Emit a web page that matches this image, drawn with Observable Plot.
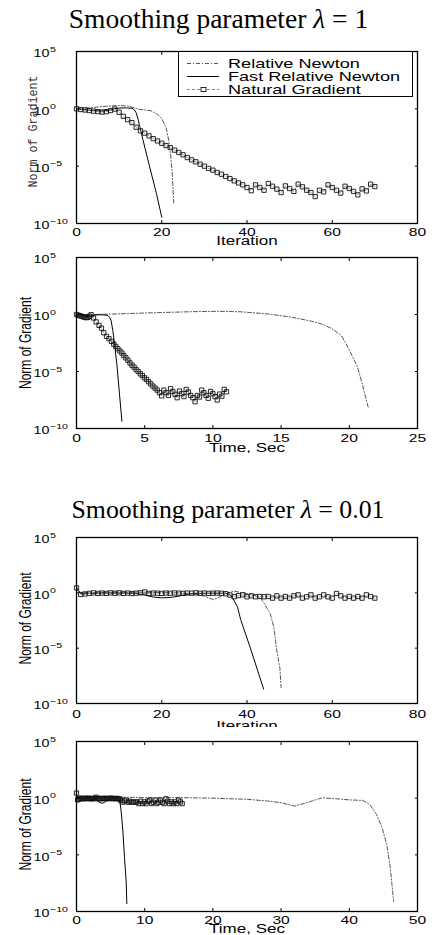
<!DOCTYPE html>
<html><head><meta charset="utf-8">
<script src="https://cdn.jsdelivr.net/npm/d3@7"></script>
<script src="https://cdn.jsdelivr.net/npm/@observablehq/plot@0.6"></script>
<style>
body{margin:0;background:#fff;}
#root{position:relative;width:432px;height:935px;overflow:hidden;background:#fff;}
.title{position:absolute;width:432px;text-align:center;font-family:"Liberation Serif","Times New Roman",serif;line-height:26px;color:#000;white-space:nowrap;}
.panel{position:absolute;left:0;}
.panel svg{display:block;}
#legend{position:absolute;left:178px;top:51px;width:235px;height:46px;box-sizing:border-box;border:1px solid #000;background:#fff;}
</style></head><body><div id="root"></div>
<script>
// ---------- data ----------
const seriesNames = ["Relative Newton", "Fast Relative Newton", "Natural Gradient"];
const titles = ["Smoothing parameter <i>λ</i> = 1", "Smoothing parameter <i>λ</i> = 0.01"];
const yTickExponents = [5, 0, -5, -10];
const iterTicks = [0, 20, 40, 60, 80];
const timeTicksA = [0, 5, 10, 15, 20, 25];
const timeTicksB = [0, 10, 20, 30, 40, 50];
const yLabel = "Norm of Gradient";

// lambda = 1 : log10(norm of gradient)
const ngA_log = [0,-0.06,-0.1,-0.15,-0.2,-0.24,-0.28,-0.25,-0.15,-0.02,
  -0.3,-0.65,-0.95,-1.2,-1.6,-1.92,-2.12,-2.36,-2.6,-2.8,
  -3.0,-3.2,-3.38,-3.6,-3.8,-4.01,-4.25,-4.45,-4.62,-4.83,
  -5.0,-5.2,-5.35,-5.55,-5.7,-5.9,-6.08,-6.28,-6.46,-6.63,
  -6.86,-7.14,-6.63,-6.86,-7.1,-6.51,-6.75,-7.0,-7.3,-6.72,
  -6.95,-7.2,-6.57,-6.8,-7.1,-7.3,-7.65,-7.1,-7.24,-6.63,
  -6.86,-7.1,-7.35,-6.75,-6.95,-7.2,-7.5,-6.98,-7.16,-6.57,-6.78];
const ngA_time = [0,0.12,0.24,0.36,0.48,0.6,0.72,0.84,0.96,1.07,
  1.25,1.44,1.65,1.83,2.0,2.2,2.38,2.56,2.73,2.88,
  3.03,3.18,3.33,3.47,3.62,3.77,3.92,4.07,4.22,4.37,
  4.52,4.68,4.83,4.98,5.13,5.28,5.44,5.6,5.76,5.92,
  6.08,6.24,6.41,6.57,6.74,6.9,7.06,7.22,7.38,7.55,
  7.72,7.88,8.04,8.2,8.37,8.53,8.69,8.86,9.02,9.18,
  9.34,9.5,9.66,9.83,10.0,10.16,10.32,10.49,10.66,10.83,11.0];
const rnA_iter = [0,2,4,6,8,10,12,13,14.4,16,17.5,19,20,21,21.6,22.1,22.5,22.8];
const rnA_log  = [0,0.05,0.12,0.2,0.25,0.28,0.25,0.15,-0.03,-0.1,-0.17,-0.47,-0.84,-1.63,-2.65,-4.1,-5.85,-8.2];
const frnA_iter = [0,2,4,6,8,9,10,11,12,13,13.6,14,14.4,14.8,15.56,17.1,18.7,20];
const frnA_log  = [0,-0.08,-0.15,-0.2,-0.1,0.02,0.06,0.08,0.08,0.05,-0.1,-0.35,-0.85,-1.48,-2.65,-4.97,-7.3,-9.45];
const rnA_time = [0,1.2,3,5,7,9,10.5,12,14,15.7,17.2,18.1,18.75,19.4,19.7,20.2,20.6,20.95,21.4];
const rnA_tlog = [0,0,0.05,0.13,0.2,0.26,0.28,0.24,0.05,-0.22,-0.58,-0.88,-1.26,-1.84,-2.43,-3.6,-4.6,-6.1,-8.2];
const frnA_time = [0,0.4,0.8,1.1,1.5,2.0,2.3,2.45,2.54,2.66,2.79,2.98,3.15,3.33];
const frnA_tlog = [0,-0.1,-0.2,-0.1,-0.03,-0.03,-0.09,-0.3,-0.55,-1.4,-2.57,-4.62,-6.96,-9.36];

// lambda = 0.01
const ngB_log = [0.45,-0.15,-0.1,-0.05,0,-0.05,-0.02,-0.05,0,-0.04,
  0,-0.05,-0.02,-0.06,-0.03,0,0.08,-0.05,-0.02,-0.03,
  -0.05,-0.02,-0.04,-0.01,-0.03,-0.05,-0.02,-0.03,0,-0.04,
  -0.02,-0.05,-0.03,-0.02,-0.04,-0.08,-0.2,-0.35,-0.25,-0.18,
  -0.36,-0.27,-0.36,-0.33,-0.36,-0.33,-0.48,-0.27,-0.48,-0.33,
  -0.48,-0.27,-0.18,-0.48,-0.36,-0.18,-0.48,-0.36,-0.18,-0.36,
  -0.48,-0.06,-0.27,-0.48,-0.33,-0.48,-0.33,-0.48,-0.18,-0.33,-0.48];
const ngB_time = [0,0.17,0.35,0.53,0.71,0.9,1.08,1.26,1.44,1.62,
  1.8,1.98,2.16,2.35,2.53,2.71,2.89,3.07,3.25,3.43,
  3.61,3.8,3.98,4.16,4.34,4.52,4.7,4.88,5.06,5.24,
  5.42,5.6,5.78,5.96,6.14,6.32,6.5,6.76,7.03,7.29,
  7.56,7.82,8.09,8.35,8.62,8.88,9.15,9.41,9.68,9.94,
  10.2,10.47,10.73,11.0,11.26,11.53,11.79,12.06,12.32,12.59,
  12.85,13.12,13.38,13.65,13.91,14.18,14.44,14.71,14.97,15.24,15.5];
const rnB_iter = [0,1,4,8,12,16,20,24,28,30,32,33,34,35.5,37,39,41,43,43.9,44.7,45.5,46.3,47,47.7,48];
const rnB_log  = [0.3,0,0.02,0.05,0.05,0.05,0.02,0,-0.1,-0.3,-0.6,-0.5,-0.3,0,0.15,0,-0.15,-0.4,-0.87,-1.4,-1.93,-3.13,-5.24,-6.75,-8.55];
const frnB_iter = [0,1,3,6,10,14,16,18,20,22,24,26,28,32,35,36.1,36.9,37.8,38.5,40.8,43.9];
const frnB_log  = [0.5,-0.1,-0.05,-0.02,-0.02,-0.05,-0.2,-0.38,-0.45,-0.42,-0.3,-0.12,-0.05,-0.03,-0.03,-0.2,-0.65,-1.3,-2.4,-5.0,-8.7];
const rnB_time = [0,2,5,10,15,20,25,28,30,32,34,36,38,40,42,43,44,44.8,45.5,46,46.5];
const rnB_tlog = [0.2,0.1,0.1,0.05,0.05,0,-0.1,-0.25,-0.4,-0.7,-0.35,0.03,-0.05,-0.15,-0.2,-0.56,-1.44,-2.6,-4.1,-6.1,-9.1];
const frnB_time = [0,0.3,1,2,2.8,3.3,3.8,4.3,4.7,5.5,6.2,6.35,6.55,6.8,7.04,7.28,7.38];
const frnB_tlog = [0.3,-0.05,0,-0.02,-0.1,-0.35,-0.45,-0.3,-0.05,-0.02,-0.05,-0.3,-1.15,-2.9,-5.26,-7.3,-9.3];

// ---------- drawing ----------
const SANS = "'Liberation Sans', Arial, Helvetica, sans-serif";
const MONO = "'Liberation Mono', 'Courier New', monospace";
const SX = 1.36;
const root = document.getElementById("root");

function pairs(xs, ys) { return xs.map((x, i) => ({x, y: ys[i]})); }

function panel(cfg) {
  const rn = pairs(cfg.rnX, cfg.rnY);
  const frn = pairs(cfg.frnX, cfg.frnY);
  const ng = pairs(cfg.ngX, cfg.ngY);
  const chart = Plot.plot({
    width: 432, height: cfg.height,
    marginLeft: 76, marginRight: 15, marginTop: cfg.marginTop, marginBottom: cfg.marginBottom,
    x: {domain: cfg.xDomain},
    y: {domain: [-10, 5]},
    style: {fontFamily: SANS, fontSize: "12px", color: "#000", background: "transparent"},
    marks: [
      Plot.line(rn, {x: "x", y: "y", stroke: "#555", strokeWidth: 1, strokeDasharray: "4,2,1,2"}),
      Plot.line(frn, {x: "x", y: "y", stroke: "#000", strokeWidth: 1}),
      Plot.line(ng, {x: "x", y: "y", stroke: "#888", strokeWidth: 0.8, strokeDasharray: "3,2"}),
      Plot.dot(ng, {x: "x", y: "y", symbol: "square", r: 2.4, stroke: "#111", strokeWidth: 0.9, fill: "none"}),
      Plot.frame({stroke: "#000", strokeWidth: 1.3}),
      Plot.axisX({ticks: cfg.xTicks, tickSize: 0, tickPadding: cfg.tickPad, label: null, fontSize: 11.5}),
      Plot.axisX({anchor: "bottom", ticks: cfg.xTicks, tickSize: -3, tickFormat: () => "", label: null}),
      Plot.axisX({anchor: "top", ticks: cfg.xTicks, tickSize: -3, tickFormat: () => "", label: null}),
      Plot.axisY({ticks: yTickExponents, tickSize: 0, tickPadding: 0, dx: -43, dy: 2.5, textAnchor: "start",
        tickFormat: d => "10^" + d, label: null, fontSize: 10.5}),
      Plot.axisY({anchor: "left", ticks: yTickExponents, tickSize: -3, tickFormat: () => "", label: null}),
      Plot.axisY({anchor: "right", ticks: yTickExponents, tickSize: -3, tickFormat: () => "", label: null}),
      Plot.text([cfg.xLabel], {frameAnchor: "bottom", dy: cfg.xLabelDy, text: d => d, fontSize: 12.5,
        textAnchor: "middle", lineAnchor: "middle"}),
      Plot.text([yLabel], {frameAnchor: "left", rotate: -90, dx: cfg.yLabelDx, dy: cfg.yLabelDy, text: d => d,
        fontFamily: cfg.yMono ? MONO : SANS, fontSize: cfg.yMono ? 11.7 : 12, fill: cfg.yMono ? "#333" : "#000",
        textAnchor: "middle", lineAnchor: "middle"})
    ]
  });
  // superscript exponents on the y tick labels
  chart.querySelectorAll('g[aria-label="y-axis tick label"] text').forEach(t => {
    const s = t.textContent;
    if (!s.includes("^")) return;
    const exp = s.split("^")[1].replace("-", "−");
    t.textContent = "";
    const a = document.createElementNS("http://www.w3.org/2000/svg", "tspan");
    a.textContent = "10";
    const b = document.createElementNS("http://www.w3.org/2000/svg", "tspan");
    b.setAttribute("dy", "-5.7");
    b.setAttribute("dx", "0.5");
    b.setAttribute("font-size", "7.8");
    b.textContent = exp;
    t.appendChild(a); t.appendChild(b);
  });
  // the original figure's sans texts are stretched horizontally
  const textGroups = chart.querySelectorAll('g[aria-label="text"]');
  const xLabelText = textGroups[0] ? textGroups[0].querySelector("text") : null;
  const yLabelText = textGroups[1] ? textGroups[1].querySelector("text") : null;
  const stretch = Array.from(chart.querySelectorAll('g[aria-label="x-axis tick label"] text, g[aria-label="y-axis tick label"] text'));
  if (xLabelText) stretch.push(xLabelText);
  stretch.forEach(t => {
    t.setAttribute("transform", (t.getAttribute("transform") || "") + ` scale(${SX},1)`);
  });
  if (yLabelText) {
    yLabelText.setAttribute("transform", (yLabelText.getAttribute("transform") || "") + ` scale(1,${cfg.yMono ? 1.15 : 1.3})`);
  }
  const div = document.createElement("div");
  div.className = "panel";
  div.style.top = cfg.top + "px";
  div.appendChild(chart);
  root.appendChild(div);
}

function title(html, top, left, size) {
  const d = document.createElement("div");
  d.className = "title";
  d.style.top = top + "px";
  d.style.left = left + "px";
  d.style.fontSize = size + "px";
  d.innerHTML = html;
  root.appendChild(d);
}

title(titles[0], 6, 2.5, 27.5);
panel({top: 40, height: 208, marginTop: 11, marginBottom: 25, xDomain: [0, 80], xTicks: iterTicks,
  xLabel: "Iteration", xLabelDy: 17.5, tickPad: 4.4, yLabelDx: -44, yLabelDy: -6, yMono: true,
  rnX: rnA_iter, rnY: rnA_log, frnX: frnA_iter, frnY: frnA_log, ngX: ngA_log.map((d, i) => i), ngY: ngA_log});
panel({top: 248, height: 205, marginTop: 9, marginBottom: 25, xDomain: [0, 25], xTicks: timeTicksA,
  xLabel: "Time, Sec", xLabelDy: 19, tickPad: 5.4, yLabelDx: -51, yLabelDy: 0,
  rnX: rnA_time, rnY: rnA_tlog, frnX: frnA_time, frnY: frnA_tlog, ngX: ngA_time, ngY: ngA_log});
title(titles[1], 497, 12, 25.8);
panel({top: 527, height: 200, marginTop: 10, marginBottom: 24, xDomain: [0, 80], xTicks: iterTicks,
  xLabel: "Iteration", xLabelDy: 22, tickPad: 5.9, yLabelDx: -51, yLabelDy: -2,
  rnX: rnB_iter, rnY: rnB_log, frnX: frnB_iter, frnY: frnB_log, ngX: ngB_log.map((d, i) => i), ngY: ngB_log});
panel({top: 728, height: 207, marginTop: 13, marginBottom: 24, xDomain: [0, 50], xTicks: timeTicksB,
  xLabel: "Time, Sec", xLabelDy: 17, tickPad: 4.4, yLabelDx: -51, yLabelDy: -2,
  rnX: rnB_time, rnY: rnB_tlog, frnX: frnB_time, frnY: frnB_tlog, ngX: ngB_time, ngY: ngB_log});

// legend (panel 1)
const NS = "http://www.w3.org/2000/svg";
const leg = document.createElement("div");
leg.id = "legend";
const ls = document.createElementNS(NS, "svg");
ls.setAttribute("width", "233"); ls.setAttribute("height", "44");
const styles = [
  {stroke: "#555", dash: "4,2,1,2", marker: false},
  {stroke: "#000", dash: null, marker: false},
  {stroke: "#888", dash: "3,2", marker: true}
];
seriesNames.forEach((name, i) => {
  const y = 11.5 + i * 13;
  const ln = document.createElementNS(NS, "line");
  ln.setAttribute("x1", 8); ln.setAttribute("x2", 40);
  ln.setAttribute("y1", y); ln.setAttribute("y2", y);
  ln.setAttribute("stroke", styles[i].stroke); ln.setAttribute("stroke-width", 1);
  if (styles[i].dash) ln.setAttribute("stroke-dasharray", styles[i].dash);
  ls.appendChild(ln);
  if (styles[i].marker) {
    const r = document.createElementNS(NS, "rect");
    r.setAttribute("x", 22); r.setAttribute("y", y - 2); r.setAttribute("width", 5); r.setAttribute("height", 4);
    r.setAttribute("fill", "#fff"); r.setAttribute("stroke", "#111"); r.setAttribute("stroke-width", 0.9);
    ls.appendChild(r);
  }
  const tx = document.createElementNS(NS, "text");
  tx.setAttribute("transform", `translate(49,${y}) scale(1.45,1)`);
  tx.setAttribute("dy", "0.36em");
  tx.setAttribute("font-family", SANS);
  tx.setAttribute("font-size", "12.5");
  tx.textContent = name;
  ls.appendChild(tx);
});
leg.appendChild(ls);
root.appendChild(leg);
</script>
</body></html>
